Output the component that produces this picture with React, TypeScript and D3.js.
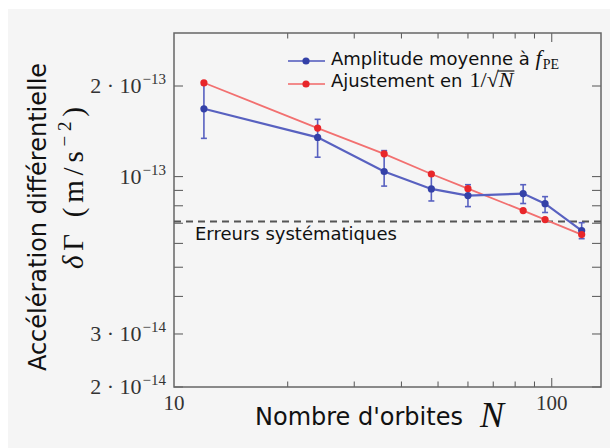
import React, { useEffect, useRef } from "react";
import * as d3 from "d3";

// nombre d'orbites
const orbits = [12, 24, 36, 48, 60, 84, 96, 120];
// amplitude moyenne a f_PE, avec barres d'erreur (bas / haut)
const amplitude = [1.68e-13, 1.35e-13, 1.04e-13, 9.1e-14, 8.65e-14, 8.78e-14, 8.13e-14, 6.62e-14];
const errLow = [1.34e-13, 1.16e-13, 9.3e-14, 8.3e-14, 7.95e-14, 8.14e-14, 7.6e-14, 6.22e-14];
const errHigh = [2.02e-13, 1.55e-13, 1.22e-13, 1.03e-13, 9.4e-14, 9.4e-14, 8.58e-14, 7.03e-14];
// ajustement en 1/sqrt(N)
const fit = [2.05e-13, 1.45e-13, 1.19e-13, 1.02e-13, 9.12e-14, 7.71e-14, 7.2e-14, 6.42e-14];
const systematic = 7.1e-14;

const yTickLabels = [
  { v: 2e-13, m: "2 · 10", e: "−13" },
  { v: 1e-13, m: "10", e: "−13" },
  { v: 3e-14, m: "3 · 10", e: "−14" },
  { v: 2e-14, m: "2 · 10", e: "−14" },
];
const yTicks = [2e-14, 3e-14, 4e-14, 5e-14, 6e-14, 7e-14, 8e-14, 9e-14, 1e-13, 2e-13];
const xTicks = [20, 30, 40, 50, 60, 70, 80, 90, 100];
const xTickLabels = [10, 100];

const BLUE = "#3441a8";
const BLUE_LINE = "#5861c0";
const RED = "#e8262a";
const RED_LINE = "#f27070";
const SERIF = "'Liberation Serif', 'DejaVu Serif', serif";
const SANS = "'DejaVu Sans', sans-serif";

const App = () => {
  const svgRef = useRef<SVGSVGElement>(null);

  useEffect(() => {
    const svg = d3.select(svgRef.current);
    svg.selectAll("*").remove();

    const left = 174, right = 601, top = 33, bottom = 387;

    svg.append("rect").attr("x", 8).attr("y", 9).attr("width", 602).attr("height", 439).attr("fill", "#f5f5f5");

    const x = d3.scaleLog().domain([10, 135]).range([left, right]);
    const y = d3.scaleLog().domain([2e-14, 3e-13]).range([bottom, top]);

    // ticks (inward, on all four sides)
    const tk = svg.append("g").attr("stroke", "#555").attr("stroke-width", 1);
    yTicks.forEach(v => {
      tk.append("line").attr("x1", left).attr("x2", left + 9).attr("y1", y(v)).attr("y2", y(v));
      tk.append("line").attr("x1", right).attr("x2", right - 9).attr("y1", y(v)).attr("y2", y(v));
    });
    xTicks.forEach(v => {
      const len = v === 100 ? 9 : 5.5;
      tk.append("line").attr("x1", x(v)).attr("x2", x(v)).attr("y1", bottom).attr("y2", bottom - len);
      tk.append("line").attr("x1", x(v)).attr("x2", x(v)).attr("y1", top).attr("y2", top + len);
    });

    svg.append("rect")
      .attr("x", left).attr("y", top).attr("width", right - left).attr("height", bottom - top)
      .attr("fill", "none").attr("stroke", "#666").attr("stroke-width", 1.5);

    // tick labels
    yTickLabels.forEach(t => {
      const txt = svg.append("text")
        .attr("x", 166).attr("y", y(t.v) + 7)
        .attr("text-anchor", "end")
        .attr("font-family", SERIF).attr("font-size", 22).attr("fill", "#333");
      txt.append("tspan").text(t.m);
      txt.append("tspan").attr("dy", -9).attr("dx", 1).attr("font-size", 15).text(t.e);
    });
    xTickLabels.forEach(v => {
      svg.append("text")
        .attr("x", x(v)).attr("y", 410)
        .attr("text-anchor", "middle")
        .attr("font-family", SERIF).attr("font-size", 21).attr("fill", "#333")
        .text(v);
    });

    // systematic errors
    svg.append("line")
      .attr("x1", left).attr("x2", right).attr("y1", y(systematic)).attr("y2", y(systematic))
      .attr("stroke", "#555").attr("stroke-width", 2).attr("stroke-dasharray", "7,5");
    svg.append("text")
      .attr("x", 195).attr("y", 240)
      .attr("font-family", SANS).attr("font-size", 18).attr("fill", "#111")
      .text("Erreurs systématiques");

    const line = d3.line<number>()
      .x((_, i) => x(orbits[i]))
      .y(d => y(d));

    // fit
    svg.append("path").datum(fit)
      .attr("fill", "none").attr("stroke", RED_LINE).attr("stroke-width", 1.8).attr("d", line);

    // amplitude
    svg.append("path").datum(amplitude)
      .attr("fill", "none").attr("stroke", BLUE_LINE).attr("stroke-width", 2.2).attr("d", line);
    const eb = svg.append("g").attr("stroke", BLUE_LINE).attr("stroke-width", 1.6);
    orbits.forEach((n, i) => {
      const cx = x(n);
      eb.append("line").attr("x1", cx).attr("x2", cx).attr("y1", y(errLow[i])).attr("y2", y(errHigh[i]));
      eb.append("line").attr("x1", cx - 3).attr("x2", cx + 3).attr("y1", y(errLow[i])).attr("y2", y(errLow[i]));
      eb.append("line").attr("x1", cx - 3).attr("x2", cx + 3).attr("y1", y(errHigh[i])).attr("y2", y(errHigh[i]));
    });
    svg.append("g").selectAll("circle").data(amplitude).join("circle")
      .attr("cx", (_, i) => x(orbits[i])).attr("cy", d => y(d)).attr("r", 3.6).attr("fill", BLUE);
    svg.append("g").selectAll("circle").data(fit).join("circle")
      .attr("cx", (_, i) => x(orbits[i])).attr("cy", d => y(d)).attr("r", 3.6).attr("fill", RED);

    // legend
    const lg = svg.append("g");
    [{ c: BLUE, l: BLUE_LINE, yy: 61 }, { c: RED, l: RED_LINE, yy: 84 }].forEach(s => {
      lg.append("line").attr("x1", 288).attr("x2", 325).attr("y1", s.yy).attr("y2", s.yy)
        .attr("stroke", s.l).attr("stroke-width", 2).attr("opacity", 0.8);
      lg.append("circle").attr("cx", 306).attr("cy", s.yy).attr("r", 3.6).attr("fill", s.c);
    });
    const l1 = lg.append("text").attr("x", 331).attr("y", 65)
      .attr("font-family", SANS).attr("font-size", 18).attr("fill", "#111");
    l1.append("tspan").text("Amplitude moyenne à ");
    l1.append("tspan").attr("font-family", SERIF).attr("font-style", "italic").attr("font-size", 22).text("f");
    l1.append("tspan").attr("font-family", SERIF).attr("font-size", 14).attr("dy", 4).attr("dx", 1).text("PE");

    const l2 = lg.append("text").attr("x", 331).attr("y", 87)
      .attr("font-family", SANS).attr("font-size", 18).attr("fill", "#111")
      .text("Ajustement en");
    const l2w = (l2.node() as SVGTextElement).getComputedTextLength();
    const mx = 331 + l2w + 7;
    const m1 = lg.append("text").attr("x", mx).attr("y", 87)
      .attr("font-family", SERIF).attr("font-size", 22).attr("fill", "#111")
      .text("1/√");
    const m1w = (m1.node() as SVGTextElement).getComputedTextLength();
    const nT = lg.append("text").attr("x", mx + m1w).attr("y", 87)
      .attr("font-family", SERIF).attr("font-style", "italic").attr("font-size", 22).attr("fill", "#111")
      .text("N");
    const nw = (nT.node() as SVGTextElement).getComputedTextLength();
    lg.append("line").attr("x1", mx + m1w - 1).attr("x2", mx + m1w + nw + 1)
      .attr("y1", 71).attr("y2", 71).attr("stroke", "#111").attr("stroke-width", 1.2);

    // axis labels
    svg.append("text")
      .attr("transform", "translate(46,217) rotate(-90)")
      .attr("text-anchor", "middle")
      .attr("font-family", SANS).attr("font-size", 24).attr("fill", "#111")
      .text("Accélération différentielle");
    const yl2 = svg.append("text")
      .attr("transform", "translate(83,188) rotate(-90)")
      .attr("text-anchor", "middle")
      .attr("textLength", 162).attr("lengthAdjust", "spacing")
      .attr("font-family", SERIF).attr("font-size", 29).attr("fill", "#111");
    yl2.append("tspan").attr("font-style", "italic").text("δ");
    yl2.append("tspan").text("Γ (m/s");
    yl2.append("tspan").attr("font-size", 19).attr("dy", -12).text("−2");
    yl2.append("tspan").attr("dy", 12).text(")");

    svg.append("text")
      .attr("x", 255).attr("y", 425)
      .attr("font-family", SANS).attr("font-size", 24).attr("fill", "#111")
      .text("Nombre d'orbites");
    svg.append("text")
      .attr("x", 480).attr("y", 427)
      .attr("font-family", SERIF).attr("font-style", "italic").attr("font-size", 36).attr("fill", "#111")
      .text("N");
  }, []);

  return (
    <svg ref={svgRef} width="610" height="448"
      style={{ position: "absolute", left: 0, top: 0, background: "#fff" }} />
  );
};

export default App;
